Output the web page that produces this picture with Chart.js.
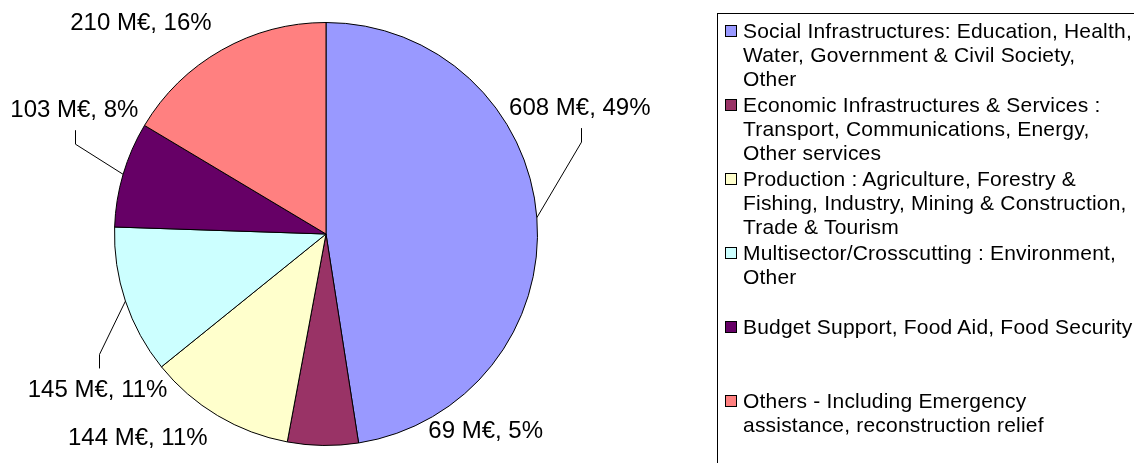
<!DOCTYPE html>
<html>
<head>
<meta charset="utf-8">
<script src="https://cdn.jsdelivr.net/npm/chart.js@4/dist/chart.umd.min.js"></script>
<style>
  html, body { margin: 0; padding: 0; background: #fff; }
  #wrap { position: relative; width: 1134px; height: 463px; overflow: hidden; }
  #pie { position: absolute; left: 0; top: 0; }
  #legend {
    position: absolute; left: 717px; top: 13px; width: 440px; height: 470px;
    border: 1px solid #000; box-sizing: border-box;
    font-family: "Liberation Sans", Arial, sans-serif; font-size: 21px; color: #000;
    letter-spacing: 0.2px;
  }
  .entry { position: absolute; left: 25px; line-height: 24px; white-space: nowrap; }
  .swatch { position: absolute; left: -18px; top: 6px; width: 12px; height: 12px; border: 1px solid #000; box-sizing: border-box; }
</style>
</head>
<body>
<div id="wrap">
  <canvas id="pie" width="1134" height="463"></canvas>
  <div id="legend"></div>
</div>
<script>
// categories (legend lines as shown), values in M€ and the printed shares
const categories = [
  ["Social Infrastructures: Education, Health,", "Water, Government & Civil Society,", "Other"],
  ["Economic Infrastructures & Services :", "Transport, Communications, Energy,", "Other services"],
  ["Production : Agriculture, Forestry &", "Fishing, Industry, Mining & Construction,", "Trade & Tourism"],
  ["Multisector/Crosscutting : Environment,", "Other"],
  ["Budget Support, Food Aid, Food Security"],
  ["Others - Including Emergency", "assistance, reconstruction relief"]
];
const values = [608, 69, 144, 145, 103, 210];
const shares = [49, 5, 11, 11, 8, 16];
const colors = ["#9999FF", "#993366", "#FFFFCC", "#CCFFFF", "#660066", "#FF8080"];

// label placement relative to pie centre, in units of the radius
const labelOffsets = [[1.20, -0.60], [0.755, 0.93], [-0.89, 0.96], [-1.08, 0.735], [-1.19, -0.59], [-0.875, -1.0]];
const hasLeader = [true, false, false, true, true, false];

const ctx = document.getElementById("pie");

const sliceLabels = {
  id: "sliceLabels",
  afterDatasetsDraw(chart) {
    const c = chart.ctx;
    const meta = chart.getDatasetMeta(0);
    c.save();
    c.font = '24px "Liberation Sans", Arial, sans-serif';
    c.fillStyle = "#000";
    c.strokeStyle = "#000";
    c.lineWidth = 1;
    c.textAlign = "center";
    c.textBaseline = "middle";
    meta.data.forEach((arc, i) => {
      const p = arc.getProps(["x", "y", "startAngle", "endAngle", "outerRadius"], true);
      const r = p.outerRadius;
      const mid = (p.startAngle + p.endAngle) / 2;
      const tx = p.x + labelOffsets[i][0] * r;
      const ty = p.y + labelOffsets[i][1] * r;
      c.fillText(`${values[i]} M€, ${shares[i]}%`, tx, ty + 1);
      if (hasLeader[i]) {
        const ax = p.x + Math.cos(mid) * r;
        const ay = p.y + Math.sin(mid) * r;
        const dir = ay > ty ? 1 : -1;
        c.beginPath();
        c.moveTo(Math.round(tx) + 1.5, ty + dir * 21);
        c.lineTo(Math.round(tx) + 1.5, ty + dir * 35);
        c.lineTo(ax, ay);
        c.stroke();
      }
    });
    c.restore();
  }
};

const chart = new Chart(ctx, {
  type: "pie",
  data: {
    labels: categories,
    datasets: [{
      data: values,
      backgroundColor: colors,
      borderColor: "#000",
      borderWidth: 1
    }]
  },
  options: {
    responsive: false,
    animation: false,
    devicePixelRatio: 1,
    layout: { padding: { left: 114, right: 596, top: 22, bottom: 17 } },
    plugins: {
      legend: { display: false },
      tooltip: { enabled: false }
    }
  },
  plugins: [sliceLabels]
});

// legend box built from the chart's own labels and colours
const legendBox = document.getElementById("legend");
chart.data.labels.forEach((lines, i) => {
  const entry = document.createElement("div");
  entry.className = "entry";
  entry.style.top = (5 + i * 74) + "px";
  const sw = document.createElement("span");
  sw.className = "swatch";
  sw.style.background = chart.data.datasets[0].backgroundColor[i];
  entry.appendChild(sw);
  lines.forEach((t) => {
    const line = document.createElement("div");
    line.textContent = t;
    entry.appendChild(line);
  });
  legendBox.appendChild(entry);
});
</script>
</body>
</html>
